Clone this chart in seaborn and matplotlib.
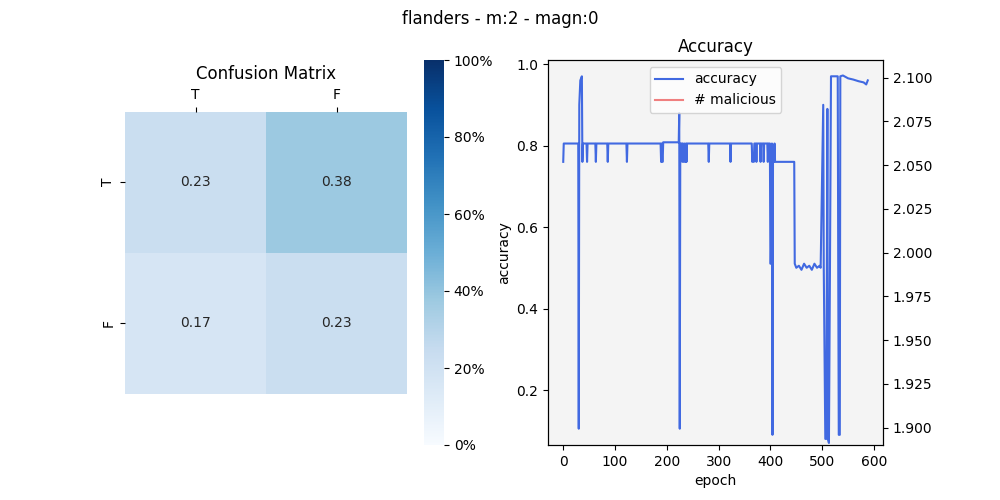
import numpy as np
import pandas as pd
import matplotlib
matplotlib.use("Agg")
import matplotlib.pyplot as plt
import seaborn as sns
from matplotlib.ticker import PercentFormatter

labels = ["T", "F"]
conf = [[0.23, 0.38], [0.17, 0.23]]

# accuracy breakpoints
epochs = [0, 1, 29, 30, 31, 33, 36, 37, 38, 45, 46, 47, 62, 63, 64, 85, 86, 87, 122, 123, 124,
          188, 189, 190, 191, 192, 193, 223, 224, 225, 226, 229, 230, 231, 233, 234, 236, 237, 238, 239,
          280, 281, 282, 322, 323, 324, 364, 365, 366, 368, 369, 372, 373, 374, 380, 381, 382, 386, 387,
          388, 394, 395, 396, 399, 400, 401, 403, 404, 405, 406, 407, 408, 409, 446, 447, 450, 455, 460,
          465, 470, 475, 480, 485, 490, 495, 497, 502, 503, 506, 508, 510, 511, 513, 515, 517, 522, 530,
          531, 532, 534, 535, 540, 550, 560, 570, 580, 585, 588]
acc = [0.76, 0.805, 0.805, 0.105, 0.9, 0.96, 0.97, 0.76, 0.805, 0.805, 0.76, 0.805, 0.805, 0.76, 0.805,
       0.805, 0.76, 0.805, 0.805, 0.76, 0.805,
       0.805, 0.76, 0.805, 0.76, 0.76, 0.808, 0.808, 0.88, 0.105, 0.805, 0.805, 0.76, 0.805, 0.76, 0.805,
       0.76, 0.805, 0.76, 0.805,
       0.805, 0.76, 0.805, 0.805, 0.76, 0.805, 0.805, 0.76, 0.78, 0.76, 0.805, 0.805, 0.76, 0.805,
       0.805, 0.76, 0.805, 0.805, 0.76,
       0.805, 0.805, 0.76, 0.805, 0.805, 0.51, 0.51, 0.805, 0.09, 0.76, 0.78, 0.76, 0.805, 0.76, 0.76,
       0.51, 0.50, 0.505, 0.495, 0.51, 0.50, 0.505, 0.495, 0.51, 0.50, 0.505, 0.50, 0.90, 0.505, 0.08,
       0.08, 0.89, 0.08, 0.07, 0.50, 0.97, 0.97, 0.97, 0.50, 0.09, 0.09, 0.97, 0.972, 0.965, 0.962,
       0.958, 0.955, 0.95, 0.96]
mal_epochs = [0]
malicious = [2]

fig = plt.figure(figsize=(10, 5), dpi=100)
fig.suptitle("flanders - m:2 - magn:0")

ax1 = fig.add_axes([0.125, 0.11, 0.282, 0.77])
cax = fig.add_axes([0.424, 0.11, 0.02, 0.77])
sns.heatmap(pd.DataFrame(conf, index=labels, columns=labels), annot=True, cmap="Blues",
            vmin=0, vmax=1, square=True, ax=ax1, cbar_ax=cax)
cax.yaxis.set_major_formatter(PercentFormatter(1.0))
ax1.xaxis.tick_top()
ax1.set_title("Confusion Matrix")

ax2 = fig.add_axes([0.548, 0.11, 0.335, 0.77])
ax2.set_facecolor("#f4f4f4")
sns.lineplot(x=epochs, y=acc, ax=ax2, color="royalblue", label="accuracy", legend=False)
ax3 = ax2.twinx()
sns.lineplot(x=mal_epochs, y=malicious, ax=ax3, color="lightcoral", label="# malicious", legend=False)
ax3.set_ylim(1.89, 2.11)
ax2.set_ylim(0.065, 1.01)
ax2.set_xlabel("epoch")
ax2.set_ylabel("accuracy")
ax2.set_title("Accuracy")
h1, l1 = ax2.get_legend_handles_labels()
h2, l2 = ax3.get_legend_handles_labels()
ax2.legend(h1 + h2, l1 + l2, loc="upper center")
fig.savefig("out.png")
